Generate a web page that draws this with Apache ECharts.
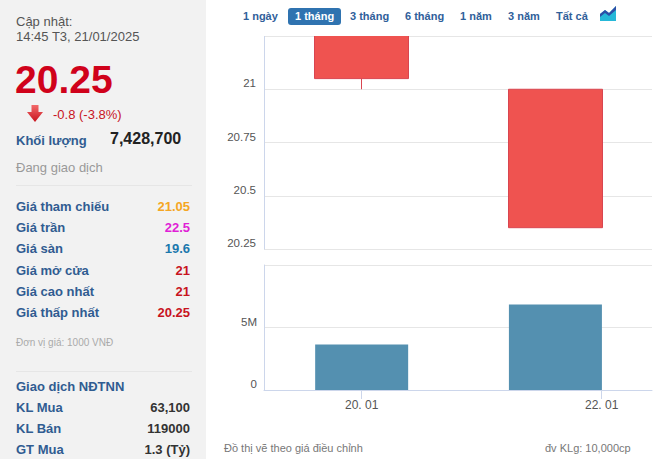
<!DOCTYPE html>
<html>
<head>
<meta charset="utf-8">
<script src="https://cdn.jsdelivr.net/npm/echarts@6/dist/echarts.min.js"></script>
<style>
  body { margin: 0; width: 669px; height: 459px; position: relative; overflow: hidden; background: #fff; font-family: Arial, "Liberation Sans", sans-serif; }
  .abs { position: absolute; white-space: nowrap; line-height: 16px; }
  #side { position: absolute; left: 0; top: 0; width: 206px; height: 459px; background: #f2f2f2; }
  .lbl { font-weight: bold; font-size: 13px; color: #305c91; left: 16px; }
  .val { font-weight: bold; font-size: 13px; right: 16px; text-align: right; }
  .sep { position: absolute; left: 16px; width: 176px; height: 1px; background: #e6e6e6; }
  .btn { position: absolute; top: 8px; height: 17px; line-height: 17px; font-size: 11px; font-weight: bold; color: #30609a; white-space: nowrap; z-index: 3; }
  .btn.on { background: #2f73b0; color: #fff; border-radius: 3px; padding: 0 7px; }
  #chart { position: absolute; left: 210px; top: 0; width: 459px; height: 459px; }
  /* candles are not clipped by the plot area, so hide what sticks out above it */
  #mask { position: absolute; left: 210px; top: 0; width: 459px; height: 35.5px; background: #fff; z-index: 2; }
  .note { position: absolute; top: 440px; font-size: 11px; color: #777; line-height: 16px; white-space: nowrap; }
</style>
</head>
<body>
<div id="side">
  <div class="abs" style="left:16px;top:14px;font-size:13px;color:#555">Cập nhật:</div>
  <div class="abs" style="left:16px;top:29px;font-size:13px;color:#555">14:45 T3, 21/01/2025</div>
  <div class="abs" style="left:15px;top:60px;font-size:39px;line-height:40px;font-weight:bold;color:#d0021b">20.25</div>
  <svg style="position:absolute;left:27px;top:105px" width="16" height="17" viewBox="0 0 16 17">
    <defs><linearGradient id="ar" x1="0" y1="0" x2="0" y2="1"><stop offset="0" stop-color="#f26a6a"/><stop offset="1" stop-color="#c8141e"/></linearGradient></defs>
    <polygon points="4.5,0 11.5,0 11.5,7 16,7 8,17 0,7 4.5,7" fill="url(#ar)"/>
  </svg>
  <div class="abs" style="left:53px;top:107px;font-size:13px;color:#c8141e">-0.8 (-3.8%)</div>
  <div class="abs lbl" style="top:133px">Khối lượng</div>
  <div class="abs" style="left:110px;top:131px;font-size:16px;font-weight:bold;color:#222">7,428,700</div>
  <div class="abs" style="left:16px;top:160px;font-size:13px;color:#999">Đang giao dịch</div>
  <div class="sep" style="top:185px"></div>
  <div id="rows"></div>
  <div class="abs" style="left:16px;top:335px;font-size:10px;color:#aaa">Đơn vị giá: 1000 VNĐ</div>
  <div class="sep" style="top:371px"></div>
  <div class="abs lbl" style="top:379px">Giao dịch NĐTNN</div>
  <div id="rows2"></div>
</div>

<div id="chart"></div>
<div id="mask"></div>

<span class="btn" style="left:243px">1 ngày</span>
<span class="btn on" style="left:288px">1 tháng</span>
<span class="btn" style="left:350px">3 tháng</span>
<span class="btn" style="left:405px">6 tháng</span>
<span class="btn" style="left:460px">1 năm</span>
<span class="btn" style="left:508px">3 năm</span>
<span class="btn" style="left:556px">Tất cả</span>
<svg style="position:absolute;left:600px;top:6px;z-index:3" width="16" height="15" viewBox="0 0 16 15">
  <polygon points="0,15 0,8 5,4 9,7 16,0 16,15" fill="#26b8d8"/>
  <polygon points="0,11 0,8 5,4 9,7 16,0 16,4 9,10 5,7" fill="#2d4fa6"/>
</svg>

<div class="note" style="left:224px">Đồ thị vẽ theo giá điều chỉnh</div>
<div class="note" style="left:545px">đv KLg: 10,000cp</div>

<script>
// info panel
var infoLabels = ['Giá tham chiếu', 'Giá trần', 'Giá sàn', 'Giá mở cửa', 'Giá cao nhất', 'Giá thấp nhất'];
var infoValues = ['21.05', '22.5', '19.6', '21', '21', '20.25'];
var infoColors = ['#f5a623', '#e01fd6', '#1b78ad', '#c8141e', '#c8141e', '#c8141e'];
var foreignLabels = ['KL Mua', 'KL Bán', 'GT Mua'];
var foreignValues = ['63,100', '119000', '1.3 (Tỷ)'];

// chart data
var dates = ['2025-01-20 00:00', '2025-01-21 14:45'];
var opens = [21.4, 21];
var closes = [21.05, 20.35];
var lows = [21, 20.35];
var highs = [21.4, 21];
var volumes = [3650000, 6850000];
var xTicks = ['2025-01-20 00:00', '2025-01-22 00:00'];
var xTickLabels = ['20. 01', '22. 01'];
var xStart = '2025-01-19 04:28';
var xEnd = '2025-01-22 10:04';

function ts(s) {
    var p = s.split(' ');
    var d = p[0].split('-').map(Number);
    var t = p[1].split(':').map(Number);
    return Date.UTC(d[0], d[1] - 1, d[2], t[0], t[1]);
}

function addRows(id, labels, values, colors, top0, step) {
    var html = '';
    labels.forEach(function (l, i) {
        var top = top0 + i * step;
        html += '<div class="abs lbl" style="top:' + top + 'px">' + l + '</div>';
        html += '<div class="abs val" style="top:' + top + 'px;color:' + (colors ? colors[i] : '#333') + '">' + values[i] + '</div>';
    });
    document.getElementById(id).innerHTML = html;
}
addRows('rows', infoLabels, infoValues, infoColors, 199, 21.2);
addRows('rows2', foreignLabels, foreignValues, null, 400, 21);

var tickTs = xTicks.map(ts);
var candleData = dates.map(function (d, i) { return [ts(d), opens[i], closes[i], lows[i], highs[i]]; });
var volData = dates.map(function (d, i) { return [ts(d), volumes[i]]; });

var chart = echarts.init(document.getElementById('chart'), null, { renderer: 'svg' });
var axisCol = '#ccd6eb';
var gridCol = '#e6e6e6';
chart.setOption({
    animation: false,
    grid: [
        { left: 54, right: 17, top: 36, height: 213 },
        { left: 54, right: 17, top: 265, height: 125 }
    ],
    xAxis: [
        { type: 'value', gridIndex: 0, min: ts(xStart), max: ts(xEnd), show: false },
        {
            type: 'value', gridIndex: 1, min: ts(xStart), max: ts(xEnd),
            axisLine: { lineStyle: { color: axisCol } },
            axisTick: { length: 9, lineStyle: { color: axisCol }, customValues: tickTs },
            axisLabel: {
                customValues: tickTs, margin: 9, color: '#555', fontSize: 12,
                formatter: function (v) { var i = tickTs.indexOf(v); return i >= 0 ? xTickLabels[i] : ''; }
            },
            splitLine: { show: false }
        }
    ],
    yAxis: [
        {
            type: 'value', gridIndex: 0, min: 20.25, max: 21.25, interval: 0.25,
            axisLine: { show: true, lineStyle: { color: axisCol } },
            axisTick: { show: false },
            splitLine: { lineStyle: { color: gridCol } },
            axisLabel: {
                color: '#555', fontSize: 11.5, margin: 8, verticalAlign: 'bottom',
                formatter: function (v) { return v === 21.25 ? '' : String(v); }
            }
        },
        {
            type: 'value', gridIndex: 1, min: 0, max: 10000000, interval: 5000000,
            axisLine: { show: true, lineStyle: { color: axisCol } },
            axisTick: { show: false },
            splitLine: { lineStyle: { color: gridCol } },
            axisLabel: {
                color: '#555', fontSize: 11.5, margin: 7, verticalAlign: 'bottom',
                formatter: function (v) { return v === 0 ? '0' : (v === 10000000 ? '' : v / 1000000 + 'M'); }
            }
        }
    ],
    series: [
        {
            type: 'candlestick', xAxisIndex: 0, yAxisIndex: 0,
            encode: { x: 0, y: [1, 2, 3, 4] },
            barWidth: 95, clip: true,
            itemStyle: { color: '#ef5350', color0: '#ef5350', borderColor: '#d94550', borderColor0: '#d94550', borderWidth: 1 },
            data: candleData
        },
        {
            type: 'bar', xAxisIndex: 1, yAxisIndex: 1,
            barWidth: 93,
            itemStyle: { color: '#5490b0' },
            data: volData
        }
    ]
});
</script>
</body>
</html>
